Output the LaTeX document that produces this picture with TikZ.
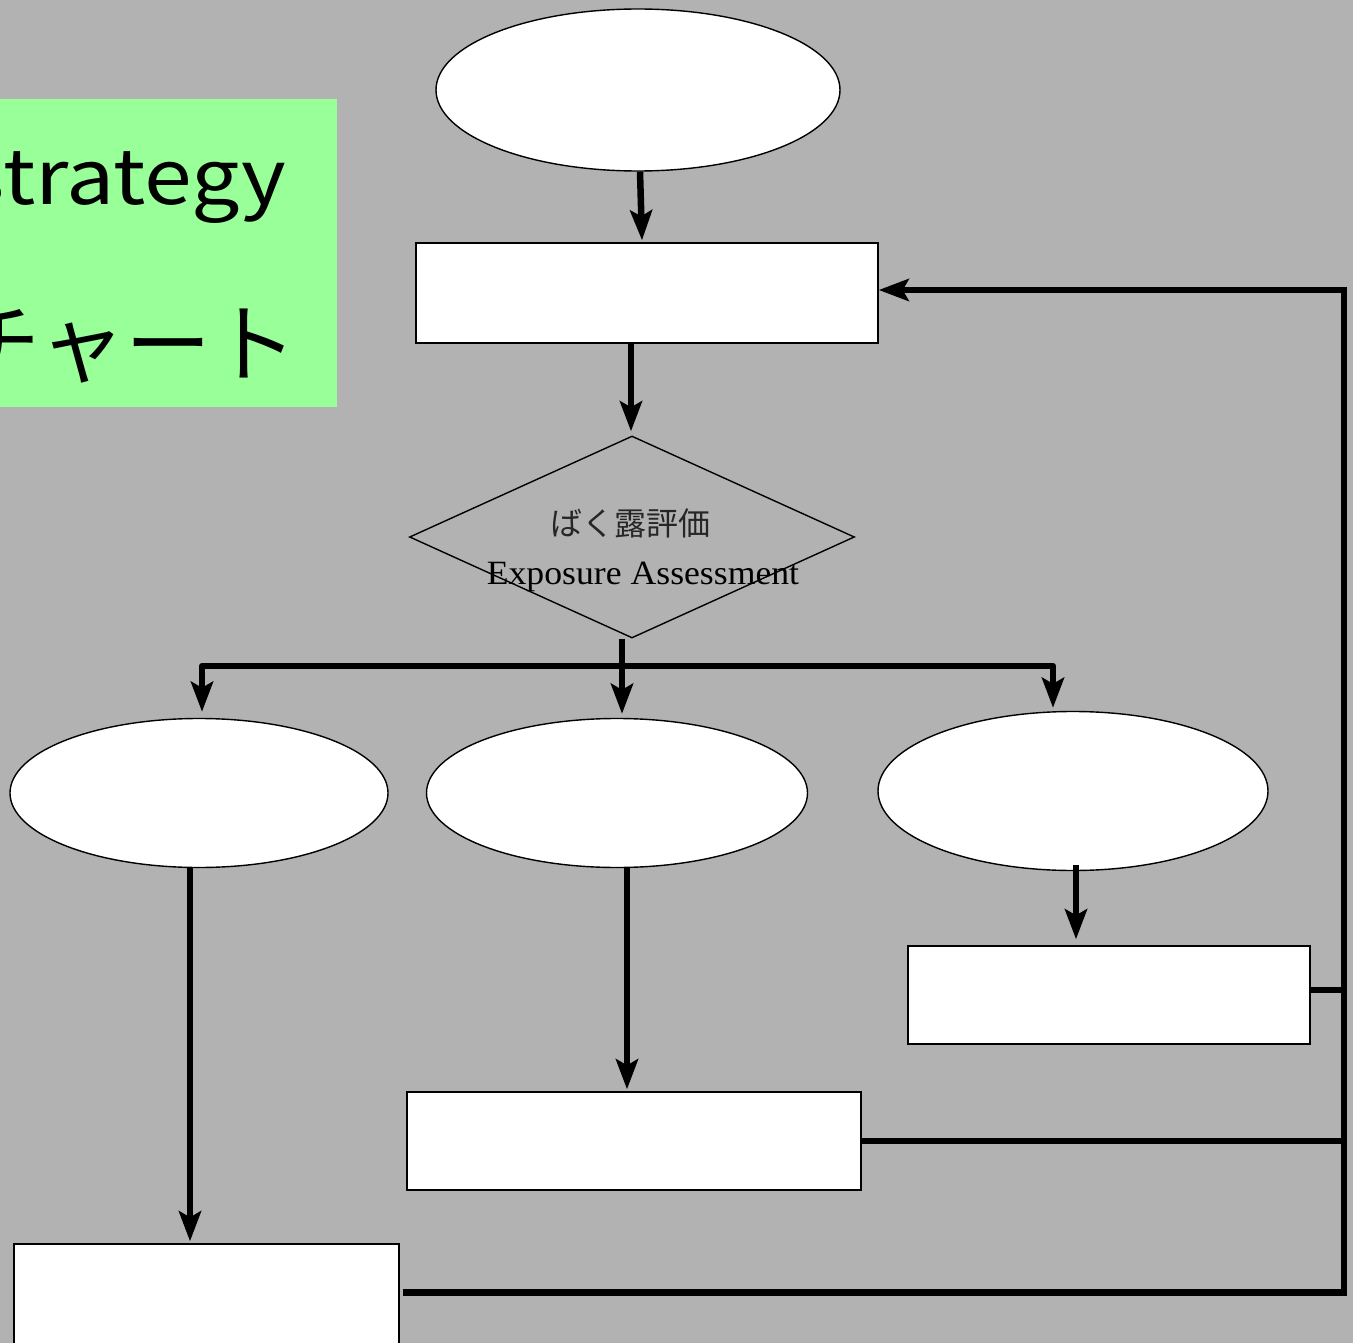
\documentclass[tikz,border=0pt]{standalone}
\usepackage{fontspec}
\setmainfont{Liberation Serif}
\newfontfamily\jp{Noto Sans CJK JP}
\usetikzlibrary{shapes.geometric,arrows.meta,calc}
\definecolor{bg}{HTML}{B2B2B2}
\definecolor{gbox}{HTML}{99FF99}
\tikzset{
  shapebox/.style={draw=black, line width=1.4pt, fill=white, inner sep=0pt},
  ellbox/.style={shapebox, ellipse},
  rectbox/.style={shapebox, rectangle},
  conn/.style={line width=6.5pt},
  arr/.style={conn, -{Stealth[length=30pt,width=22pt,inset=6pt]}},
}
\begin{document}
\begin{tikzpicture}[x=1pt,y=-1pt]
\useasboundingbox (0,0) rectangle (1353,1343);
\fill[bg] (0,0) rectangle (1353,1343);
% green title box
\fill[gbox] (0,99) rectangle (337,407);
\begin{scope}
\clip (0,99) rectangle (337,407);
\node[anchor=base east, inner sep=0pt, xscale=1.13, font=\jp\fontsize{76}{80}\selectfont] (t1) at (286,205) {strategy};
\node[anchor=east, inner sep=0pt, font=\jp\fontsize{86}{90}\selectfont] (t2) at (298,346) {チャート};
\end{scope}
% shapes
\node[ellbox, minimum width=404pt, minimum height=162pt] (e0) at (638,90) {};
\node[rectbox, minimum width=462pt, minimum height=100pt] (r1) at (647,293) {};
\node[draw=black, line width=1.4pt, inner sep=0pt, diamond, minimum width=445pt, minimum height=202pt] (dm) at (632,537) {};
\node[inner sep=0pt, font=\jp\fontsize{32}{34}\selectfont, text=black!85] (dj) at (630,523) {ばく露評価};
\node[inner sep=0pt, xscale=1.05, font=\fontsize{34}{36}\selectfont] (de) at (643,577) {Exposure Assessment};
\node[ellbox, minimum width=378pt, minimum height=149pt] (eL) at (199,793) {};
\node[ellbox, minimum width=381pt, minimum height=149pt] (eM) at (617,793) {};
\node[ellbox, minimum width=390pt, minimum height=159pt] (eR) at (1073,791) {};
\node[rectbox, minimum width=385pt, minimum height=101pt] (rL) at (206.5,1294.5) {};
\node[rectbox, minimum width=454pt, minimum height=98pt] (rM) at (634,1141) {};
\node[rectbox, minimum width=402pt, minimum height=98pt] (rR) at (1109,995) {};
% connectors
\coordinate (j) at (622,666);
\coordinate (fb) at (1344,290);
\coordinate (jR) at ($(eR.north)+(-20,0)$);
\coordinate (jL) at ($(eL.north)+(3,0)$);
\draw[arr] ($(e0.south)+(2,0)$) -- ($(e0.south |- r1.north)+(4,-2)$);
\draw[arr] (r1.south -| 631,0) -- ($(631,0 |- dm.north)+(0,-4)$);
\draw[arr] (dm.south -| j) -- ($(j |- eM.north)+(0,-4)$);
\draw[arr, line join=round] (j) -- (j -| jL) -- ($(jL)+(0,-6)$);
\draw[arr, line join=round] (j) -- (j -| jR) -- ($(jR)+(0,-3)$);
\draw[arr] ($(eL.south)+(-9,0)$) -- ($(eL.south |- rL.north)+(-9,-2)$);
\draw[arr] ($(eM.south)+(10,0)$) -- ($(eM.south |- rM.north)+(10,-2)$);
\draw[arr] ($(eR.south)+(3,-6)$) -- ($(eR.south |- rR.north)+(3,-6)$);
\draw[arr] ($(rL.east)+(3,-2)$) -| (fb) -- (r1.east |- fb);
\draw[conn] ($(rM.east)+(-2,0)$) -- (rM.east -| fb);
\draw[conn] ($(rR.east)+(0,-5)$) -- ($(rR.east -| fb)+(0,-5)$);
\end{tikzpicture}
\end{document}
